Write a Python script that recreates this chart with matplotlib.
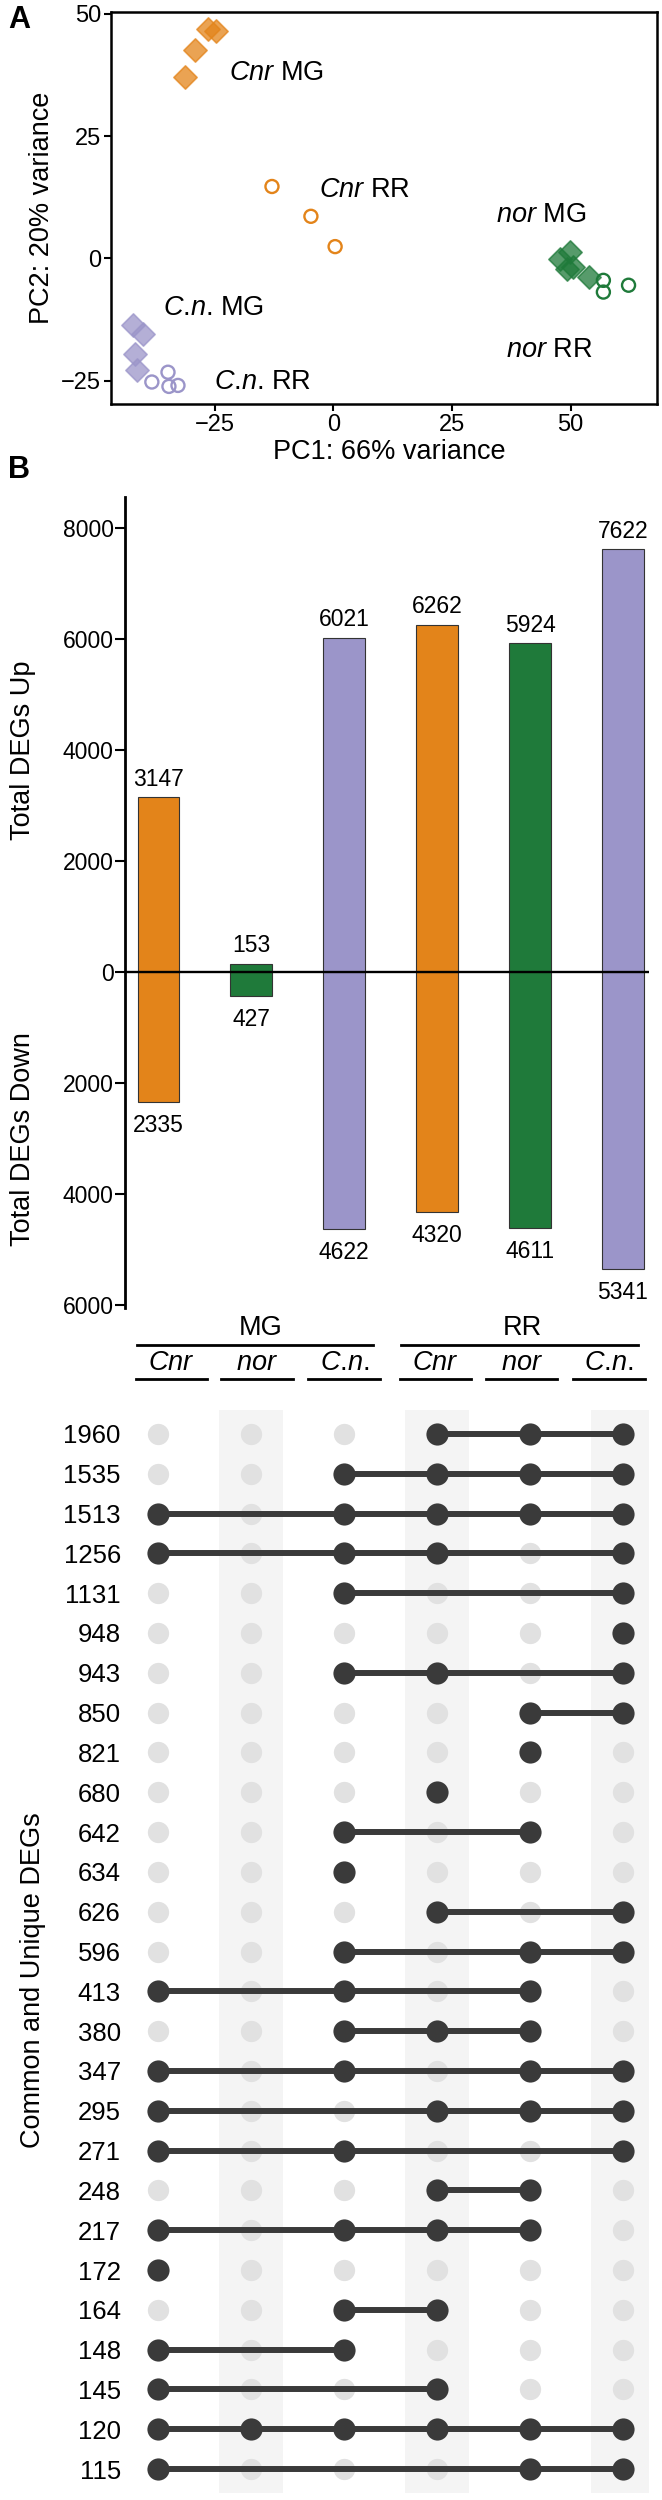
import matplotlib
matplotlib.use('Agg')
import matplotlib.pyplot as plt
import matplotlib.transforms as mtransforms
import numpy as np
from matplotlib import font_manager

# pick a Helvetica-like font if it is there
installed = {f.name for f in font_manager.fontManager.ttflist}
fam = 'Liberation Sans' if 'Liberation Sans' in installed else 'DejaVu Sans'
plt.rcParams['font.family'] = [fam, 'DejaVu Sans']
plt.rcParams['mathtext.fontset'] = 'custom'
plt.rcParams['mathtext.rm'] = fam
plt.rcParams['mathtext.it'] = fam + ':italic'
plt.rcParams['axes.unicode_minus'] = True

ORANGE = '#E3841A'
GREEN = '#1F7A3A'
PURPLE = '#9B95C9'
DARK = '#3A3A3A'
LIGHT = '#E1E1E1'

# ---- panel A: PCA scores ----
cnr_mg_pc1 = [-26.3, -24.6, -29.2, -31.2]
cnr_mg_pc2 = [46.9, 46.6, 42.6, 37.1]
cnr_rr_pc1 = [-12.9, -4.7, 0.4]
cnr_rr_pc2 = [14.7, 8.6, 2.4]
nor_mg_pc1 = [47.8, 49.9, 49.2, 50.6, 53.8]
nor_mg_pc2 = [-0.1, 1.3, -2.1, -1.8, -3.8]
nor_rr_pc1 = [56.9, 56.9, 62.2]
nor_rr_pc2 = [-4.5, -6.9, -5.5]
cn_mg_pc1 = [-42.1, -40.0, -41.7, -41.3]
cn_mg_pc2 = [-13.7, -15.4, -19.5, -22.9]
cn_rr_pc1 = [-38.2, -34.8, -34.6, -32.7]
cn_rr_pc2 = [-25.3, -23.3, -26.2, -26.0]

# ---- panel B: DEG totals ----
groups = ['Cnr MG', 'nor MG', 'C.n. MG', 'Cnr RR', 'nor RR', 'C.n. RR']
degs_up = [3147, 153, 6021, 6262, 5924, 7622]
degs_down = [2335, 427, 4622, 4320, 4611, 5341]
bar_colors = [ORANGE, GREEN, PURPLE, ORANGE, GREEN, PURPLE]

# ---- upset rows: counts and member columns (index into groups) ----
row_counts = [1960, 1535, 1513, 1256, 1131, 948, 943, 850, 821, 680, 642, 634, 626,
              596, 413, 380, 347, 295, 271, 248, 217, 172, 164, 148, 145, 120, 115]
row_sets = [[3, 4, 5], [2, 3, 4, 5], [0, 2, 3, 4, 5], [0, 2, 3, 5], [2, 5], [5],
            [2, 3, 5], [4, 5], [4], [3], [2, 4], [2], [3, 5], [2, 4, 5], [0, 2, 4],
            [2, 3, 4], [0, 2, 4, 5], [0, 3, 4, 5], [0, 2, 5], [3, 4], [0, 2, 3, 4],
            [0], [2, 3], [0, 2], [0, 3], [0, 1, 2, 3, 4, 5], [0, 4, 5]]

fig = plt.figure(figsize=(6.62, 25), dpi=100)

# ================= A =================
ax1 = fig.add_axes([0.1677, 0.8384, 0.8248, 0.1568])
pca = [
    (cnr_mg_pc1, cnr_mg_pc2, ORANGE, 'D'),
    (cnr_rr_pc1, cnr_rr_pc2, ORANGE, 'o'),
    (nor_mg_pc1, nor_mg_pc2, GREEN, 'D'),
    (nor_rr_pc1, nor_rr_pc2, GREEN, 'o'),
    (cn_mg_pc1, cn_mg_pc2, PURPLE, 'D'),
    (cn_rr_pc1, cn_rr_pc2, PURPLE, 'o'),
]
for xs, ys, col, mk in pca:
    if mk == 'D':
        ax1.scatter(xs, ys, marker='D', s=140, facecolor=col, edgecolor=col,
                    alpha=0.75, linewidths=1.2, zorder=3)
    else:
        ax1.scatter(xs, ys, marker='o', s=88, facecolor='none', edgecolor=col,
                    linewidths=1.7, zorder=3)

CN = r'$\mathit{C}$.$\mathit{n}$.'
pca_labels = [(-22, 38, r'$\mathit{Cnr}$ MG'), (-3, 14, r'$\mathit{Cnr}$ RR'),
              (34.3, 8.8, r'$\mathit{nor}$ MG'), (36.4, -18.8, r'$\mathit{nor}$ RR'),
              (-35.9, -10.2, CN + ' MG'), (-25.2, -25.2, CN + ' RR')]
for lx, ly, txt in pca_labels:
    ax1.text(lx, ly, txt, fontsize=19.5, ha='left', va='center')

ax1.set_xlim(-46.8, 68.2)
ax1.set_ylim(-29.8, 50.4)
ax1.set_xticks([-25, 0, 25, 50])
ax1.set_yticks([-25, 0, 25, 50])
ax1.tick_params(direction='out', length=5, width=1.5, labelsize=17, pad=2)
for sp in ax1.spines.values():
    sp.set_linewidth(1.8)
ax1.text(0.509, -0.122, 'PC1: 66% variance', transform=ax1.transAxes,
         fontsize=19.5, ha='center', va='center')
ax1.text(-0.126, 0.5, 'PC2: 20% variance', transform=ax1.transAxes,
         fontsize=19.5, ha='center', va='center', rotation=90)

fig.text(19 / 662, 1 - 20 / 2500, 'A', fontsize=22, fontweight='bold', ha='center', va='center')
fig.text(19 / 662, 1 - 470 / 2500, 'B', fontsize=22, fontweight='bold', ha='center', va='center')

# ================= B: bars =================
xlim = (-0.36, 5.28)
x = np.arange(len(groups))
ax2 = fig.add_axes([0.1888, 0.4768, 0.7915, 0.3244])
ax2.bar(x, degs_up, width=0.45, color=bar_colors, edgecolor='#333333', linewidth=0.8, zorder=2)
ax2.bar(x, [-d for d in degs_down], width=0.45, color=bar_colors, edgecolor='#333333',
        linewidth=0.8, zorder=2)
ax2.axhline(0, color='black', lw=1.7, zorder=3)
for xi, u, d in zip(x, degs_up, degs_down):
    ax2.annotate(str(u), (xi, u), xytext=(0, 13), textcoords='offset points',
                 ha='center', va='center', fontsize=16.5)
    ax2.annotate(str(d), (xi, -d), xytext=(0, -17), textcoords='offset points',
                 ha='center', va='center', fontsize=16.5)
ax2.set_xlim(*xlim)
ax2.set_ylim(-6050, 8560)
yt = [8000, 6000, 4000, 2000, 0, -2000, -4000, -6000]
ax2.set_yticks(yt)
ax2.set_yticklabels([str(abs(v)) for v in yt])
ax2.set_xticks([])
ax2.tick_params(axis='y', direction='out', length=7, width=1.5, labelsize=16.5, pad=1)
for s in ['top', 'right', 'bottom']:
    ax2.spines[s].set_visible(False)
ax2.spines['left'].set_linewidth(2)
trans = mtransforms.blended_transform_factory(ax2.transAxes, ax2.transData)
ax2.text(-0.195, 4000, 'Total DEGs Up', transform=trans, rotation=90,
         ha='center', va='center', fontsize=19.5)
ax2.text(-0.195, -3000, 'Total DEGs Down', transform=trans, rotation=90,
         ha='center', va='center', fontsize=19.5)

# ================= header =================
axh = fig.add_axes([0.1888, 1 - 1392 / 2500, 0.7915, 80 / 2500])
axh.set_xlim(*xlim)
axh.set_ylim(1392, 1312)
axh.axis('off')
axh.text(1.1, 1328, 'MG', fontsize=19.5, ha='center', va='center')
axh.text(3.92, 1328, 'RR', fontsize=19.5, ha='center', va='center')
axh.plot([-0.23, 2.31], [1345, 1345], color='black', lw=2, clip_on=False)
axh.plot([2.61, 5.16], [1345, 1345], color='black', lw=2, clip_on=False)
sub_names = [r'$\mathit{Cnr}$', r'$\mathit{nor}$', CN] * 2
sub_x = [0.14, 1.06, 2.0, 2.98, 3.91, 4.85]
for sx, nm in zip(sub_x, sub_names):
    axh.text(sx, 1363, nm, fontsize=19.5, ha='center', va='center')
    axh.plot([sx - 0.385, sx + 0.385], [1379, 1379], color='black', lw=2, clip_on=False)

# ================= upset matrix =================
n_rows = len(row_sets)
ax3 = fig.add_axes([0.1888, 1 - 2493 / 2500, 0.7915, 1083 / 2500])
ax3.set_xlim(*xlim)
ax3.set_ylim(n_rows - 0.4, -0.6)
for c in [1, 3, 5]:
    ax3.axvspan(c - 0.345, c + 0.345, color='#F4F4F4', zorder=0, lw=0)
for i, members in enumerate(row_sets):
    ax3.scatter(x, [i] * len(x), s=235, color=LIGHT, zorder=1, lw=0)
    if len(members) > 1:
        ax3.plot([min(members), max(members)], [i, i], color=DARK, lw=4.3,
                 solid_capstyle='round', zorder=2)
    ax3.scatter(members, [i] * len(members), s=255, color=DARK, zorder=3, lw=0)
ax3.set_yticks(range(n_rows))
ax3.set_yticklabels([str(c) for c in row_counts])
ax3.set_xticks([])
ax3.tick_params(axis='y', length=0, labelsize=18.5, pad=3)
for sp in ax3.spines.values():
    sp.set_visible(False)
ax3.text(-0.176, 0.474, 'Common and Unique DEGs', transform=ax3.transAxes, rotation=90,
         ha='center', va='center', fontsize=19.5)

fig.savefig('out.png', dpi=100)
